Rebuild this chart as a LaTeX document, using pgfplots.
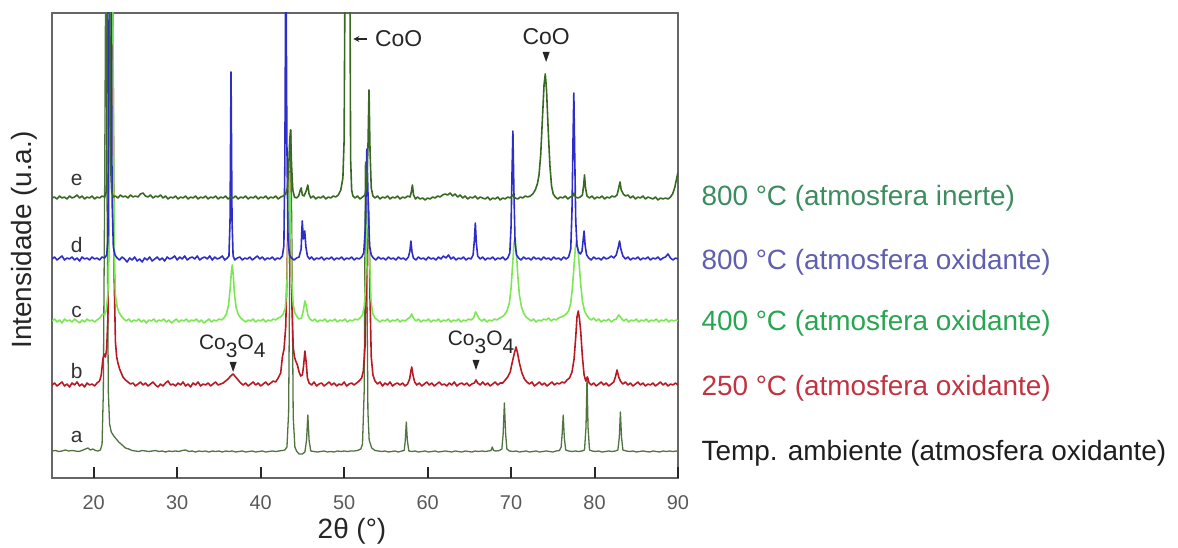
\documentclass[border=0pt]{standalone}
\usepackage{pgfplots}
\pgfplotsset{compat=1.18}
\usepackage{pgfplotstable}
\usepackage{fontspec}
\setmainfont{Liberation Sans}
\usetikzlibrary{arrows.meta}

% trace colours
\definecolor{trA}{RGB}{80,115,65}
\definecolor{trB}{RGB}{185,25,35}
\definecolor{trC}{RGB}{125,230,85}
\definecolor{trD}{RGB}{45,45,200}
\definecolor{trE}{RGB}{55,105,35}
% legend text colours
\definecolor{lbA}{RGB}{30,30,30}
\definecolor{lbB}{RGB}{195,50,65}
\definecolor{lbC}{RGB}{40,165,80}
\definecolor{lbD}{RGB}{95,95,175}
\definecolor{lbE}{RGB}{60,140,95}

% XRD patterns: 2theta (deg) and relative intensity above each baseline
\pgfplotstableread[row sep=\\]{
x y\\
15.0 1\\ 15.4 1.5\\ 15.8 0.5\\ 16.2 1\\ 16.6 2\\ 17.0 1\\ 17.4 1.5\\ 17.8 1\\ 18.2 0.5\\ 18.6 1.5\\
19.0 3\\ 19.3 4\\ 19.6 2\\ 19.9 3\\ 20.2 1.5\\ 20.5 1\\ 20.8 2\\ 21.0 8\\ 21.15 60\\ 21.3 250\\
21.45 520\\ 21.6 250\\ 21.75 60\\ 21.9 28\\ 22.1 20\\ 22.4 16\\ 22.7 13\\ 23.0 10\\ 23.4 7\\ 23.8 4\\
24.2 3\\ 24.6 1.5\\ 25.0 1\\ 25.4 0.5\\ 25.8 1.5\\ 26.2 1\\ 26.6 0.5\\ 27.0 1\\ 27.4 1.5\\ 27.8 0.5\\
28.2 1\\ 28.6 0\\ 29.0 1\\ 29.4 0.5\\ 29.8 1\\ 30.2 0.5\\ 30.6 1.5\\ 31.0 2\\ 31.4 0.5\\ 31.8 1\\
32.2 0\\ 32.6 1\\ 33.0 0.5\\ 33.4 1\\ 33.8 0\\ 34.2 1\\ 34.6 0.5\\ 35.0 1\\ 35.4 0\\ 35.8 1\\
36.2 0.5\\ 36.6 1\\ 37.0 0\\ 37.4 0.5\\ 37.8 1\\ 38.2 0\\ 38.6 0.5\\ 39.0 1\\ 39.4 0\\ 39.8 0.5\\
40.2 1\\ 40.6 0\\ 41.0 0.5\\ 41.4 1\\ 41.8 0.5\\ 42.2 1\\ 42.6 1.5\\ 42.9 2\\ 43.15 5\\ 43.35 40\\
43.5 200\\ 43.62 322\\ 43.75 200\\ 43.9 35\\ 44.1 5\\ 44.3 1\\ 44.6 -2\\ 45.0 -2\\ 45.3 0\\ 45.5 12\\
45.65 37\\ 45.8 12\\ 46.0 1\\ 46.4 0.5\\ 46.8 0\\ 47.2 0.5\\ 47.6 1\\ 48.0 0\\ 48.4 0.5\\ 48.8 0\\
49.2 1\\ 49.6 0.5\\ 50.0 1\\ 50.4 0.5\\ 50.8 1\\ 51.2 1\\ 51.6 1.5\\ 52.0 3\\ 52.2 8\\ 52.4 60\\
52.55 290\\ 52.7 200\\ 52.85 40\\ 53.0 12\\ 53.3 4\\ 53.7 1.5\\ 54.1 1\\ 54.5 0.5\\ 54.9 1\\ 55.3 0\\
55.7 0.5\\ 56.1 1\\ 56.5 0\\ 56.9 1\\ 57.2 1.5\\ 57.33 12\\ 57.45 30\\ 57.57 12\\ 57.75 1\\ 58.1 0.5\\
58.5 1\\ 58.9 0\\ 59.3 0.5\\ 59.7 1\\ 60.1 0\\ 60.5 0.5\\ 60.9 1\\ 61.3 0\\ 61.7 0.5\\ 62.1 1\\
62.5 0.5\\ 62.9 0\\ 63.3 1\\ 63.7 0.5\\ 64.1 0\\ 64.5 1\\ 64.9 0.5\\ 65.3 0\\ 65.7 1\\ 66.1 0.5\\
66.5 1\\ 66.9 0.5\\ 67.3 1\\ 67.6 1.5\\ 67.75 5\\ 67.9 1.5\\ 68.2 1\\ 68.6 1.5\\ 68.9 3\\ 69.05 18\\
69.2 49\\ 69.35 18\\ 69.5 3\\ 69.8 1\\ 70.2 0.5\\ 70.6 1\\ 71.0 0\\ 71.4 0.5\\ 71.8 1\\ 72.2 0\\
72.6 0.5\\ 73.0 1\\ 73.4 0\\ 73.8 0.5\\ 74.2 1\\ 74.6 0.5\\ 75.0 0\\ 75.4 1\\ 75.8 1.5\\ 76.0 5\\
76.12 18\\ 76.25 37\\ 76.38 14\\ 76.55 2\\ 76.9 1\\ 77.3 0.5\\ 77.7 1\\ 78.1 0.5\\ 78.5 1\\ 78.8 2\\
78.98 25\\ 79.1 75\\ 79.22 25\\ 79.4 2\\ 79.7 1\\ 80.1 0.5\\ 80.5 1\\ 80.9 0\\ 81.3 0.5\\ 81.7 1\\
82.1 0.5\\ 82.5 1\\ 82.8 2\\ 82.97 15\\ 83.1 40\\ 83.23 15\\ 83.4 2\\ 83.8 1\\ 84.2 0.5\\ 84.6 1\\
85.0 0\\ 85.4 0.5\\ 85.8 1\\ 86.2 0.5\\ 86.6 0\\ 87.0 1\\ 87.4 0.5\\ 87.8 0\\ 88.2 1\\ 88.6 0.5\\
89.0 1\\ 89.4 0.5\\ 89.8 1\\ 90.0 0.5\\
}\xrdA

\pgfplotstableread[row sep=\\]{
x y\\
15.0 2\\ 15.3 4\\ 15.6 1\\ 15.9 3\\ 16.2 5\\ 16.5 1\\ 16.8 3\\ 17.1 0\\ 17.4 4\\ 17.7 2\\
18.0 5\\ 18.3 1\\ 18.6 3\\ 18.9 0\\ 19.2 4\\ 19.5 2\\ 19.8 3\\ 20.1 1\\ 20.4 4\\ 20.7 6\\
20.9 12\\ 21.1 28\\ 21.25 33\\ 21.4 30\\ 21.55 38\\ 21.7 70\\ 21.85 200\\ 22.0 450\\ 22.15 560\\ 22.3 350\\
22.45 110\\ 22.6 45\\ 22.75 30\\ 22.9 24\\ 23.1 18\\ 23.3 14\\ 23.5 10\\ 23.8 7\\ 24.1 5\\ 24.4 3\\
24.7 4\\ 25.0 1\\ 25.3 3\\ 25.6 5\\ 25.9 2\\ 26.2 4\\ 26.5 1\\ 26.8 3\\ 27.1 5\\ 27.4 2\\
27.7 0\\ 28.0 3\\ 28.3 1\\ 28.6 4\\ 28.9 6\\ 29.2 2\\ 29.5 3\\ 29.8 1\\ 30.1 4\\ 30.4 2\\
30.7 5\\ 31.0 1\\ 31.3 3\\ 31.6 0\\ 31.9 4\\ 32.2 2\\ 32.5 5\\ 32.8 1\\ 33.1 3\\ 33.4 2\\
33.7 4\\ 34.0 1\\ 34.3 3\\ 34.6 5\\ 34.9 2\\ 35.2 3\\ 35.5 4\\ 35.8 6\\ 36.1 8\\ 36.4 11\\
36.7 13\\ 37.0 10\\ 37.3 7\\ 37.6 4\\ 37.9 2\\ 38.2 4\\ 38.5 1\\ 38.8 3\\ 39.1 5\\ 39.4 2\\
39.7 4\\ 40.0 1\\ 40.3 3\\ 40.6 5\\ 40.9 2\\ 41.2 4\\ 41.5 6\\ 41.8 5\\ 42.1 9\\ 42.4 14\\
42.6 30\\ 42.8 38\\ 43.0 60\\ 43.15 110\\ 43.3 180\\ 43.45 215\\ 43.6 170\\ 43.75 80\\ 43.9 40\\ 44.05 30\\
44.2 26\\ 44.4 22\\ 44.6 15\\ 44.8 11\\ 45.0 12\\ 45.15 22\\ 45.3 36\\ 45.45 25\\ 45.6 9\\ 45.8 4\\
46.1 2\\ 46.4 5\\ 46.7 1\\ 47.0 3\\ 47.3 4\\ 47.6 1\\ 47.9 3\\ 48.2 5\\ 48.5 2\\ 48.8 4\\
49.1 1\\ 49.4 3\\ 49.7 2\\ 50.0 5\\ 50.3 1\\ 50.6 3\\ 50.9 4\\ 51.2 2\\ 51.5 4\\ 51.8 6\\
52.1 9\\ 52.3 16\\ 52.5 40\\ 52.65 100\\ 52.8 160\\ 52.95 175\\ 53.1 90\\ 53.25 30\\ 53.45 12\\ 53.7 6\\
54.0 3\\ 54.3 5\\ 54.6 1\\ 54.9 4\\ 55.2 2\\ 55.5 5\\ 55.8 1\\ 56.1 3\\ 56.4 4\\ 56.7 2\\
57.0 4\\ 57.3 1\\ 57.6 3\\ 57.85 8\\ 58.0 16\\ 58.1 20\\ 58.25 12\\ 58.45 5\\ 58.7 2\\ 59.0 4\\
59.3 1\\ 59.6 3\\ 59.9 5\\ 60.2 2\\ 60.5 4\\ 60.8 1\\ 61.1 3\\ 61.4 5\\ 61.7 2\\ 62.0 3\\
62.3 1\\ 62.6 4\\ 62.9 2\\ 63.2 5\\ 63.5 1\\ 63.8 3\\ 64.1 4\\ 64.4 2\\ 64.7 4\\ 65.0 1\\
65.3 3\\ 65.6 4\\ 65.8 7\\ 66.0 4\\ 66.3 2\\ 66.6 5\\ 66.9 2\\ 67.2 4\\ 67.5 1\\ 67.8 3\\
68.1 5\\ 68.4 2\\ 68.7 4\\ 69.0 4\\ 69.3 7\\ 69.6 10\\ 69.9 15\\ 70.15 25\\ 70.4 34\\ 70.6 40\\
70.8 33\\ 71.0 24\\ 71.3 14\\ 71.6 8\\ 71.9 5\\ 72.2 3\\ 72.5 5\\ 72.8 1\\ 73.1 3\\ 73.4 5\\
73.7 2\\ 74.0 4\\ 74.3 1\\ 74.6 3\\ 74.9 5\\ 75.2 2\\ 75.5 4\\ 75.8 3\\ 76.1 5\\ 76.4 4\\
76.7 7\\ 77.0 9\\ 77.3 15\\ 77.55 28\\ 77.75 50\\ 77.9 70\\ 78.05 76\\ 78.2 68\\ 78.35 55\\ 78.55 30\\
78.75 12\\ 78.95 6\\ 79.15 10\\ 79.35 4\\ 79.6 2\\ 79.9 4\\ 80.2 1\\ 80.5 3\\ 80.8 5\\ 81.1 2\\
81.4 4\\ 81.7 1\\ 82.0 3\\ 82.3 5\\ 82.5 10\\ 82.7 17\\ 82.9 10\\ 83.1 6\\ 83.4 3\\ 83.7 5\\
84.0 2\\ 84.3 4\\ 84.6 1\\ 84.9 3\\ 85.2 5\\ 85.5 2\\ 85.8 4\\ 86.1 1\\ 86.4 3\\ 86.7 2\\
87.0 4\\ 87.3 1\\ 87.6 3\\ 87.9 5\\ 88.2 2\\ 88.5 4\\ 88.8 1\\ 89.1 3\\ 89.4 2\\ 89.7 4\\
90.0 2\\
}\xrdB

\pgfplotstableread[row sep=\\]{
x y\\
15.0 2\\ 15.3 4\\ 15.6 1\\ 15.9 3\\ 16.2 0\\ 16.5 4\\ 16.8 2\\ 17.1 3\\ 17.4 1\\ 17.7 4\\
18.0 2\\ 18.3 0\\ 18.6 3\\ 18.9 1\\ 19.2 4\\ 19.5 2\\ 19.8 3\\ 20.1 1\\ 20.4 3\\ 20.7 5\\
20.9 7\\ 21.1 9\\ 21.3 8\\ 21.5 12\\ 21.7 30\\ 21.85 120\\ 22.0 350\\ 22.15 560\\ 22.3 300\\ 22.45 80\\
22.6 28\\ 22.8 16\\ 23.0 11\\ 23.3 7\\ 23.6 4\\ 23.9 2\\ 24.2 4\\ 24.5 1\\ 24.8 3\\ 25.1 2\\
25.4 4\\ 25.7 1\\ 26.0 3\\ 26.3 0\\ 26.6 3\\ 26.9 2\\ 27.2 4\\ 27.5 1\\ 27.8 3\\ 28.1 2\\
28.4 4\\ 28.7 1\\ 29.0 3\\ 29.3 0\\ 29.6 2\\ 29.9 4\\ 30.2 1\\ 30.5 3\\ 30.8 2\\ 31.1 4\\
31.4 1\\ 31.7 3\\ 32.0 2\\ 32.3 4\\ 32.6 1\\ 32.9 3\\ 33.2 0\\ 33.5 2\\ 33.8 4\\ 34.1 1\\
34.4 3\\ 34.7 2\\ 35.0 4\\ 35.3 3\\ 35.6 5\\ 35.9 9\\ 36.15 18\\ 36.35 35\\ 36.5 52\\ 36.6 58\\
36.72 48\\ 36.85 30\\ 37.05 16\\ 37.3 9\\ 37.6 5\\ 37.9 3\\ 38.2 1\\ 38.5 3\\ 38.8 2\\ 39.1 4\\
39.4 1\\ 39.7 3\\ 40.0 2\\ 40.3 4\\ 40.6 1\\ 40.9 3\\ 41.2 2\\ 41.5 4\\ 41.8 3\\ 42.1 5\\
42.4 6\\ 42.7 9\\ 42.95 15\\ 43.15 40\\ 43.3 90\\ 43.45 150\\ 43.6 100\\ 43.75 40\\ 43.9 18\\ 44.1 10\\
44.3 7\\ 44.6 4\\ 44.9 5\\ 45.1 12\\ 45.3 22\\ 45.45 18\\ 45.65 8\\ 45.9 4\\ 46.2 2\\ 46.5 4\\
46.8 1\\ 47.1 3\\ 47.4 2\\ 47.7 4\\ 48.0 1\\ 48.3 3\\ 48.6 2\\ 48.9 4\\ 49.2 1\\ 49.5 3\\
49.8 2\\ 50.1 4\\ 50.4 1\\ 50.7 3\\ 51.0 2\\ 51.3 4\\ 51.6 3\\ 51.9 5\\ 52.2 8\\ 52.45 18\\
52.6 50\\ 52.75 100\\ 52.9 125\\ 53.05 70\\ 53.2 25\\ 53.4 10\\ 53.7 5\\ 54.0 3\\ 54.3 1\\ 54.6 3\\
54.9 2\\ 55.2 4\\ 55.5 1\\ 55.8 3\\ 56.1 2\\ 56.4 4\\ 56.7 1\\ 57.0 3\\ 57.3 2\\ 57.6 4\\
57.9 6\\ 58.1 9\\ 58.3 5\\ 58.6 2\\ 58.9 4\\ 59.2 1\\ 59.5 3\\ 59.8 2\\ 60.1 4\\ 60.4 1\\
60.7 3\\ 61.0 2\\ 61.3 4\\ 61.6 1\\ 61.9 3\\ 62.2 2\\ 62.5 4\\ 62.8 1\\ 63.1 3\\ 63.4 2\\
63.7 4\\ 64.0 1\\ 64.3 3\\ 64.6 2\\ 64.9 4\\ 65.2 3\\ 65.5 5\\ 65.75 11\\ 65.95 8\\ 66.2 4\\
66.5 2\\ 66.8 4\\ 67.1 1\\ 67.4 3\\ 67.7 2\\ 68.0 4\\ 68.3 3\\ 68.6 5\\ 68.9 6\\ 69.2 8\\
69.5 12\\ 69.8 20\\ 70.0 35\\ 70.2 60\\ 70.35 80\\ 70.5 85\\ 70.65 70\\ 70.8 48\\ 71.0 28\\ 71.25 16\\
71.5 10\\ 71.8 6\\ 72.1 4\\ 72.4 2\\ 72.7 4\\ 73.0 1\\ 73.3 3\\ 73.6 2\\ 73.9 4\\ 74.2 3\\
74.5 5\\ 74.8 2\\ 75.1 4\\ 75.4 3\\ 75.7 5\\ 76.0 6\\ 76.3 7\\ 76.6 9\\ 76.9 12\\ 77.15 20\\
77.35 35\\ 77.55 58\\ 77.7 75\\ 77.85 82\\ 78.0 75\\ 78.15 60\\ 78.35 38\\ 78.55 22\\ 78.8 12\\ 79.05 8\\
79.3 5\\ 79.6 3\\ 79.9 5\\ 80.2 2\\ 80.5 4\\ 80.8 1\\ 81.1 3\\ 81.4 2\\ 81.7 4\\ 82.0 1\\
82.3 3\\ 82.6 4\\ 82.9 8\\ 83.2 5\\ 83.5 2\\ 83.8 4\\ 84.1 1\\ 84.4 3\\ 84.7 2\\ 85.0 4\\
85.3 1\\ 85.6 3\\ 85.9 2\\ 86.2 4\\ 86.5 1\\ 86.8 3\\ 87.1 2\\ 87.4 4\\ 87.7 1\\ 88.0 3\\
88.3 2\\ 88.6 4\\ 88.9 1\\ 89.2 3\\ 89.5 2\\ 89.8 3\\ 90.0 2\\
}\xrdC

\pgfplotstableread[row sep=\\]{
x y\\
15.0 2\\ 15.3 4\\ 15.6 1\\ 15.9 3\\ 16.2 5\\ 16.5 1\\ 16.8 3\\ 17.1 2\\ 17.4 4\\ 17.7 1\\
18.0 3\\ 18.3 0\\ 18.6 4\\ 18.9 2\\ 19.2 3\\ 19.5 1\\ 19.8 4\\ 20.1 2\\ 20.4 3\\ 20.7 1\\
21.0 4\\ 21.3 3\\ 21.55 6\\ 21.7 20\\ 21.82 200\\ 21.95 560\\ 22.08 300\\ 22.2 60\\ 22.35 14\\ 22.55 6\\
22.8 3\\ 23.1 1\\ 23.4 4\\ 23.7 2\\ 24.0 -1\\ 24.3 3\\ 24.6 1\\ 24.9 4\\ 25.2 0\\ 25.5 2\\
25.8 -1\\ 26.1 3\\ 26.4 1\\ 26.7 4\\ 27.0 0\\ 27.3 2\\ 27.6 4\\ 27.9 1\\ 28.2 3\\ 28.5 0\\
28.8 4\\ 29.1 2\\ 29.4 3\\ 29.7 5\\ 30.0 1\\ 30.3 4\\ 30.6 2\\ 30.9 5\\ 31.2 1\\ 31.5 3\\
31.8 4\\ 32.1 2\\ 32.4 5\\ 32.7 1\\ 33.0 3\\ 33.3 4\\ 33.6 2\\ 33.9 5\\ 34.2 1\\ 34.5 4\\
34.8 2\\ 35.1 3\\ 35.4 5\\ 35.7 1\\ 36.0 3\\ 36.2 5\\ 36.33 40\\ 36.45 189\\ 36.57 40\\ 36.7 5\\
36.9 1\\ 37.2 3\\ 37.5 4\\ 37.8 1\\ 38.1 3\\ 38.4 2\\ 38.7 4\\ 39.0 1\\ 39.3 3\\ 39.6 5\\
39.9 2\\ 40.2 4\\ 40.5 1\\ 40.8 3\\ 41.1 2\\ 41.4 4\\ 41.7 1\\ 42.0 3\\ 42.3 2\\ 42.6 5\\
42.78 15\\ 42.9 100\\ 43.02 320\\ 43.14 120\\ 43.28 20\\ 43.45 6\\ 43.7 3\\ 44.0 1\\ 44.3 3\\ 44.6 4\\
44.85 12\\ 44.98 40\\ 45.12 22\\ 45.28 30\\ 45.42 14\\ 45.6 5\\ 45.85 2\\ 46.1 4\\ 46.4 1\\ 46.7 3\\
47.0 2\\ 47.3 4\\ 47.6 1\\ 47.9 3\\ 48.2 2\\ 48.5 4\\ 48.8 1\\ 49.1 3\\ 49.4 2\\ 49.7 4\\
50.0 1\\ 50.3 3\\ 50.6 2\\ 50.9 4\\ 51.2 1\\ 51.5 3\\ 51.8 2\\ 52.1 4\\ 52.35 8\\ 52.55 35\\
52.72 112\\ 52.88 60\\ 53.05 15\\ 53.25 6\\ 53.5 3\\ 53.8 1\\ 54.1 4\\ 54.4 2\\ 54.7 3\\ 55.0 1\\
55.3 4\\ 55.6 2\\ 55.9 3\\ 56.2 1\\ 56.5 4\\ 56.8 2\\ 57.1 3\\ 57.4 1\\ 57.7 4\\ 57.88 10\\
58.0 20\\ 58.13 9\\ 58.3 3\\ 58.6 1\\ 58.9 4\\ 59.2 2\\ 59.5 3\\ 59.8 1\\ 60.1 4\\ 60.4 2\\
60.7 3\\ 61.0 1\\ 61.3 4\\ 61.6 2\\ 61.9 5\\ 62.2 3\\ 62.5 6\\ 62.8 2\\ 63.1 4\\ 63.4 1\\
63.7 3\\ 64.0 2\\ 64.3 4\\ 64.6 1\\ 64.9 3\\ 65.2 2\\ 65.45 6\\ 65.6 20\\ 65.72 38\\ 65.84 18\\
66.0 5\\ 66.3 2\\ 66.6 4\\ 66.9 1\\ 67.2 3\\ 67.5 2\\ 67.8 4\\ 68.1 1\\ 68.4 3\\ 68.7 2\\
69.0 4\\ 69.3 1\\ 69.6 3\\ 69.85 8\\ 70.0 35\\ 70.12 90\\ 70.22 130\\ 70.34 70\\ 70.48 18\\ 70.65 6\\
70.9 3\\ 71.2 1\\ 71.5 4\\ 71.8 2\\ 72.1 3\\ 72.4 1\\ 72.7 4\\ 73.0 2\\ 73.3 3\\ 73.6 1\\
73.9 4\\ 74.2 2\\ 74.5 3\\ 74.8 1\\ 75.1 4\\ 75.4 2\\ 75.7 3\\ 76.0 1\\ 76.3 4\\ 76.6 2\\
76.9 4\\ 77.15 12\\ 77.3 50\\ 77.42 120\\ 77.52 168\\ 77.62 110\\ 77.75 40\\ 77.9 15\\ 78.1 9\\ 78.3 7\\
78.5 10\\ 78.65 22\\ 78.75 30\\ 78.87 16\\ 79.05 6\\ 79.3 3\\ 79.6 1\\ 79.9 4\\ 80.2 2\\ 80.5 3\\
80.8 1\\ 81.1 4\\ 81.4 2\\ 81.7 3\\ 82.0 5\\ 82.3 3\\ 82.6 6\\ 82.85 14\\ 83.0 20\\ 83.15 12\\
83.4 5\\ 83.7 2\\ 84.0 4\\ 84.3 1\\ 84.6 3\\ 84.9 2\\ 85.2 4\\ 85.5 1\\ 85.8 3\\ 86.1 2\\
86.4 4\\ 86.7 1\\ 87.0 3\\ 87.3 2\\ 87.6 4\\ 87.9 1\\ 88.2 3\\ 88.5 4\\ 88.8 7\\ 89.1 3\\
89.4 1\\ 89.7 3\\ 90.0 2\\
}\xrdD

\pgfplotstableread[row sep=\\]{
x y\\
15.0 2\\ 15.3 3\\ 15.6 1\\ 15.9 4\\ 16.2 2\\ 16.5 3\\ 16.8 1\\ 17.1 4\\ 17.4 2\\ 17.7 3\\
18.0 5\\ 18.3 2\\ 18.6 4\\ 18.9 1\\ 19.2 3\\ 19.5 2\\ 19.8 4\\ 20.1 1\\ 20.4 3\\ 20.7 2\\
21.0 4\\ 21.3 3\\ 21.5 8\\ 21.62 150\\ 21.75 560\\ 21.88 300\\ 22.0 40\\ 22.15 8\\ 22.35 3\\ 22.6 4\\
22.9 2\\ 23.2 5\\ 23.5 3\\ 23.8 4\\ 24.1 2\\ 24.4 5\\ 24.7 3\\ 25.0 4\\ 25.3 3\\ 25.6 6\\
25.9 7\\ 26.2 4\\ 26.5 3\\ 26.8 5\\ 27.1 2\\ 27.4 4\\ 27.7 3\\ 28.0 5\\ 28.3 2\\ 28.6 4\\
28.9 1\\ 29.2 3\\ 29.5 2\\ 29.8 4\\ 30.1 1\\ 30.4 3\\ 30.7 2\\ 31.0 4\\ 31.3 1\\ 31.6 3\\
31.9 2\\ 32.2 4\\ 32.5 1\\ 32.8 3\\ 33.1 2\\ 33.4 4\\ 33.7 1\\ 34.0 3\\ 34.3 2\\ 34.6 4\\
34.9 1\\ 35.2 3\\ 35.5 2\\ 35.8 4\\ 36.1 1\\ 36.4 3\\ 36.7 2\\ 37.0 4\\ 37.3 1\\ 37.6 3\\
37.9 2\\ 38.2 4\\ 38.5 1\\ 38.8 3\\ 39.1 2\\ 39.4 4\\ 39.7 1\\ 40.0 3\\ 40.3 2\\ 40.6 4\\
40.9 1\\ 41.2 3\\ 41.5 2\\ 41.8 4\\ 42.1 1\\ 42.4 3\\ 42.7 4\\ 43.0 6\\ 43.2 12\\ 43.35 30\\
43.48 60\\ 43.58 70\\ 43.7 35\\ 43.85 10\\ 44.05 3\\ 44.3 2\\ 44.55 4\\ 44.75 10\\ 44.85 12\\ 45.0 5\\
45.2 4\\ 45.45 9\\ 45.65 15\\ 45.8 6\\ 46.0 2\\ 46.3 4\\ 46.6 1\\ 46.9 3\\ 47.2 2\\ 47.5 4\\
47.8 1\\ 48.1 3\\ 48.4 2\\ 48.7 4\\ 49.0 3\\ 49.3 5\\ 49.6 10\\ 49.85 22\\ 50.0 60\\ 50.12 250\\
50.22 480\\ 50.58 480\\ 50.68 250\\ 50.78 40\\ 50.9 10\\ 51.05 4\\ 51.3 2\\ 51.6 4\\ 51.9 1\\ 52.2 3\\
52.5 5\\ 52.7 15\\ 52.85 50\\ 52.98 110\\ 53.1 50\\ 53.25 12\\ 53.45 4\\ 53.7 2\\ 54.0 4\\ 54.3 1\\
54.6 3\\ 54.9 2\\ 55.2 4\\ 55.5 1\\ 55.8 3\\ 56.1 2\\ 56.4 4\\ 56.7 1\\ 57.0 3\\ 57.3 2\\
57.6 4\\ 57.9 3\\ 58.05 8\\ 58.18 15\\ 58.32 5\\ 58.55 1\\ 58.8 3\\ 59.1 1\\ 59.4 2\\ 59.7 0\\
60.0 2\\ 60.3 1\\ 60.6 3\\ 60.9 2\\ 61.2 4\\ 61.5 3\\ 61.8 5\\ 62.1 6\\ 62.4 5\\ 62.7 7\\
63.0 4\\ 63.3 6\\ 63.6 3\\ 63.9 5\\ 64.2 2\\ 64.5 4\\ 64.8 1\\ 65.1 3\\ 65.4 2\\ 65.7 4\\
66.0 1\\ 66.3 3\\ 66.6 2\\ 66.9 1\\ 67.2 3\\ 67.5 0\\ 67.8 2\\ 68.1 1\\ 68.4 3\\ 68.7 0\\
69.0 2\\ 69.3 1\\ 69.6 3\\ 69.9 2\\ 70.2 5\\ 70.5 2\\ 70.8 1\\ 71.1 3\\ 71.4 2\\ 71.7 4\\
72.0 3\\ 72.3 4\\ 72.6 6\\ 72.9 10\\ 73.15 16\\ 73.35 25\\ 73.55 45\\ 73.75 80\\ 73.95 115\\ 74.1 126\\
74.25 110\\ 74.45 70\\ 74.65 35\\ 74.85 14\\ 75.05 6\\ 75.3 3\\ 75.6 1\\ 75.9 3\\ 76.2 2\\ 76.5 4\\
76.8 1\\ 77.1 3\\ 77.4 4\\ 77.55 7\\ 77.7 3\\ 78.0 2\\ 78.3 3\\ 78.55 5\\ 78.7 15\\ 78.8 25\\
78.92 12\\ 79.1 4\\ 79.4 2\\ 79.7 4\\ 80.0 1\\ 80.3 3\\ 80.6 2\\ 80.9 4\\ 81.2 1\\ 81.5 3\\
81.8 2\\ 82.1 4\\ 82.4 3\\ 82.7 5\\ 82.9 12\\ 83.05 18\\ 83.2 10\\ 83.45 6\\ 83.7 4\\ 84.0 5\\
84.3 2\\ 84.6 4\\ 84.9 1\\ 85.2 3\\ 85.5 2\\ 85.8 4\\ 86.1 1\\ 86.4 3\\ 86.7 2\\ 87.0 1\\
87.3 3\\ 87.6 0\\ 87.9 2\\ 88.2 1\\ 88.5 2\\ 88.8 1\\ 89.1 3\\ 89.35 6\\ 89.6 12\\ 89.8 20\\
90.0 28\\
}\xrdE

\newcommand{\fs}[1]{\fontsize{#1}{#1}\selectfont}

\begin{document}
\begin{tikzpicture}
\path[use as bounding box] (0,0) rectangle (1178bp,548bp);
\begin{axis}[
  at={(52bp,70bp)}, anchor=south west,
  width=626bp, height=465bp, scale only axis,
  xmin=15, xmax=90, ymin=0, ymax=465,
  xtick={20,30,...,90}, ytick=\empty,
  tick pos=left, tick align=inside,
  major tick length=0pt,
  axis line style={black!60, line width=1.5bp},
  /pgf/number format/assume math mode=true,
  xticklabel style={font=\fs{20}, text=black!65, yshift=-14bp},
  clip=true,
  every axis plot/.append style={line width=1.6bp, line join=round},
]
% stacked patterns, each lifted to its own baseline
\addplot[trA, line width=1.3bp] table[x=x, y expr=\thisrow{y}+26] {\xrdA};
\addplot[trB] table[x=x, y expr=\thisrow{y}+91] {\xrdB};
\addplot[trC] table[x=x, y expr=\thisrow{y}+155] {\xrdC};
\addplot[trD] table[x=x, y expr=\thisrow{y}+217] {\xrdD};
\addplot[trE] table[x=x, y expr=\thisrow{y}+278] {\xrdE};

% sample letters
\begin{scope}[every node/.style={font=\fs{21}, text=black!80}]
\node at (axis cs:17.96,298) {e};
\node at (axis cs:17.96,233) {d};
\node at (axis cs:17.96,166) {c};
\node at (axis cs:17.96,107) {b};
\node at (axis cs:17.96,41) {a};
\end{scope}

% phase markers
\draw[-{Stealth[length=6bp,width=6bp]}, line width=1.6bp, black!85]
  (axis cs:52.75,439) -- (axis cs:51.1,439);
\node[anchor=west, font=\fs{23}, text=black!85] at (axis cs:53.3,439) {CoO};
\node[font=\fs{23}, text=black!85] at (axis cs:74.2,441) {CoO};
\fill[black!85] (axis cs:74.2,416) -- ([xshift=-3.5bp,yshift=10bp]axis cs:74.2,416)
  -- ([xshift=3.5bp,yshift=10bp]axis cs:74.2,416) -- cycle;

\node[font=\fs{21}, text=black!85] at (axis cs:36.6,132)
  {Co\raisebox{-0.4em}{3}O\raisebox{-0.4em}{4}};
\fill[black!85] (axis cs:36.7,106) -- ([xshift=-3.5bp,yshift=10bp]axis cs:36.7,106)
  -- ([xshift=3.5bp,yshift=10bp]axis cs:36.7,106) -- cycle;
\node[font=\fs{21}, text=black!85] at (axis cs:66.4,136)
  {Co\raisebox{-0.4em}{3}O\raisebox{-0.4em}{4}};
\fill[black!85] (axis cs:65.8,108) -- ([xshift=-3.5bp,yshift=10bp]axis cs:65.8,108)
  -- ([xshift=3.5bp,yshift=10bp]axis cs:65.8,108) -- cycle;
\end{axis}

% inward tick marks on the 2theta axis (axis spans 52bp..678bp for 15..90)
\foreach \t in {20,30,...,90}
  \draw[black!85, line width=2bp] ({(52+(\t-15)*8.34667)*1bp},70bp) -- ++(0,11bp);

% axis titles
\node[rotate=90, font=\fs{28}, text=black!85] at (24bp,308bp) {Intensidade (u.a.)};
\node[font=\fs{28}, text=black!85] at (352bp,17bp) {2θ (°)};

% sample descriptions
\begin{scope}[every node/.style={anchor=west, font=\fs{28}}]
\node[text=lbE] at (698bp,350bp) {800 °C (atmosfera inerte)};
\node[text=lbD] at (698bp,286bp) {800 °C (atmosfera oxidante)};
\node[text=lbC] at (698bp,225bp) {400 °C (atmosfera oxidante)};
\node[text=lbB] at (698bp,160bp) {250 °C (atmosfera oxidante)};
\node[text=lbA] at (698bp,95bp) {Temp. ambiente (atmosfera oxidante)};
\end{scope}
\end{tikzpicture}
\end{document}
